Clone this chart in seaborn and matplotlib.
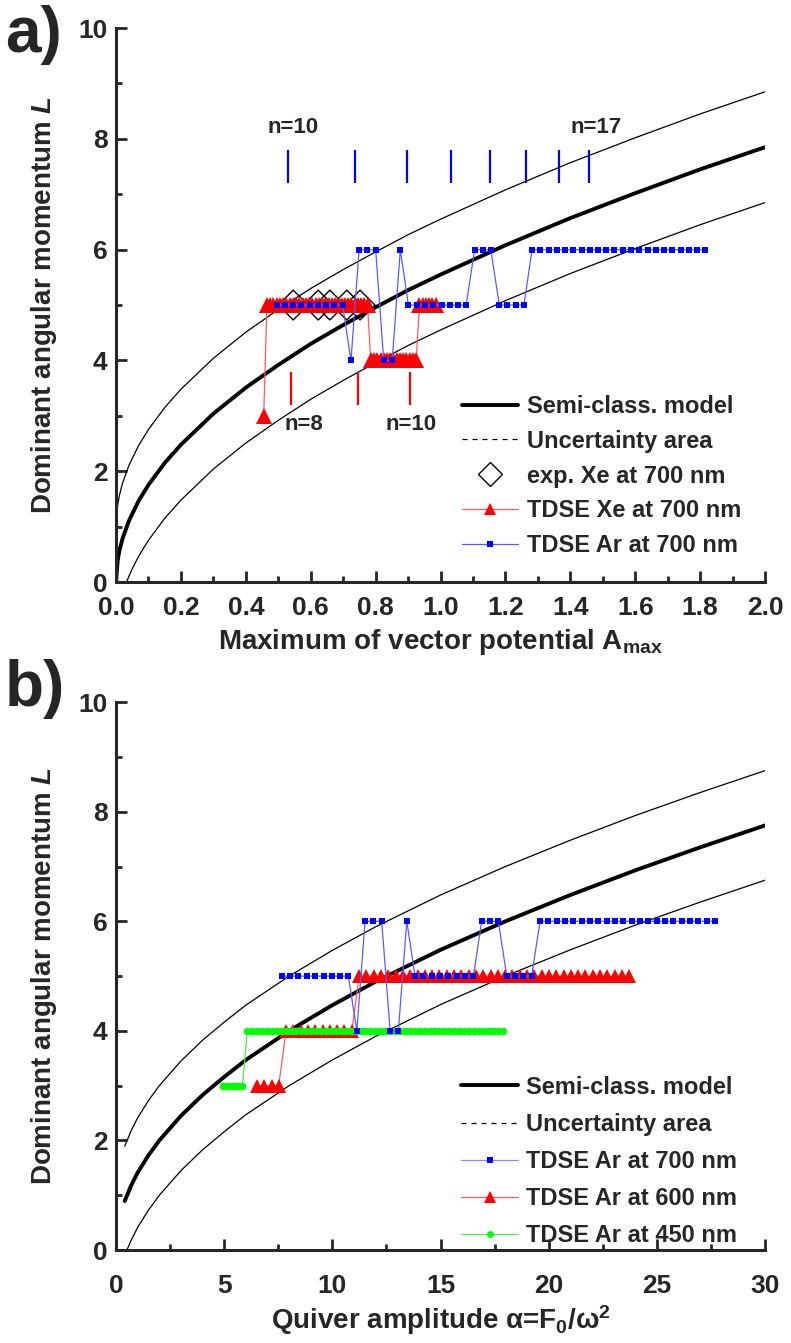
import numpy as np
import pandas as pd
import matplotlib
matplotlib.use("Agg")
import matplotlib.pyplot as plt
import seaborn as sns
from matplotlib.lines import Line2D
from matplotlib.ticker import MultipleLocator, FormatStrFormatter

# ── Panel a data (x = A_max) ────────────────────────────────────────────────────
A_MODEL = [0.0, 0.005, 0.01, 0.02, 0.04, 0.07, 0.1, 0.15, 0.2, 0.3, 0.4, 0.5, 0.6,
           0.7, 0.8, 0.9, 1.0, 1.2, 1.4, 1.6, 1.8, 2.0]
L_MODEL_A = [0.0, 0.39, 0.555, 0.785, 1.11, 1.47, 1.755, 2.15, 2.48, 3.04, 3.51, 3.92,
             4.30, 4.64, 4.96, 5.27, 5.55, 6.08, 6.57, 7.02, 7.45, 7.85]
L_UPPER_A = [1.0, 1.39, 1.555, 1.785, 2.11, 2.47, 2.755, 3.15, 3.48, 4.04, 4.51, 4.92,
             5.30, 5.64, 5.96, 6.27, 6.55, 7.08, 7.57, 8.02, 8.45, 8.85]
A_LOWER = [0.0325, 0.04, 0.05, 0.07, 0.1, 0.15, 0.2, 0.3, 0.4, 0.5, 0.6, 0.7, 0.8,
           0.9, 1.0, 1.2, 1.4, 1.6, 1.8, 2.0]
L_LOWER_A = [0.0, 0.11, 0.24, 0.47, 0.755, 1.15, 1.48, 2.04, 2.51, 2.92, 3.30, 3.64,
             3.96, 4.27, 4.55, 5.08, 5.57, 6.02, 6.45, 6.85]

EXP_XE_A = [0.546, 0.623, 0.659, 0.711, 0.752]
EXP_XE_L = [5, 5, 5, 5, 5]

XE700_A = [0.455,
           0.465, 0.475, 0.485, 0.495, 0.505, 0.515, 0.525, 0.535, 0.545, 0.555, 0.565,
           0.575, 0.585, 0.595, 0.605, 0.615, 0.625, 0.635, 0.645, 0.655, 0.665, 0.675,
           0.685, 0.695, 0.705, 0.715, 0.725, 0.735, 0.745, 0.755, 0.765, 0.775,
           0.785, 0.795, 0.805, 0.815, 0.825, 0.835, 0.845, 0.855, 0.865, 0.875, 0.885,
           0.895, 0.905, 0.915, 0.925,
           0.935, 0.945, 0.955, 0.965, 0.975, 0.985]
XE700_L = [3] + [5] * 32 + [4] * 15 + [5] * 6

AR700_A = [0.495, 0.520, 0.546, 0.571, 0.597, 0.622, 0.647, 0.673, 0.698, 0.724,
           0.749, 0.774, 0.800, 0.825, 0.851, 0.876, 0.901, 0.927, 0.952, 0.978,
           1.003, 1.028, 1.054, 1.079, 1.105, 1.130, 1.155, 1.181, 1.206, 1.232,
           1.257, 1.282, 1.308, 1.333, 1.359, 1.384, 1.409, 1.435, 1.460, 1.486,
           1.511, 1.536, 1.562, 1.587, 1.613, 1.638, 1.663, 1.689, 1.714, 1.740,
           1.765, 1.790, 1.816]
AR700_L = ([5] * 9 + [4] + [6] * 3 + [4] * 2 + [6] + [5] * 8 + [6] * 3 + [5] * 4
           + [6] * 22)

N_BLUE_A = [0.530, 0.737, 0.897, 1.032, 1.153, 1.263, 1.365, 1.457]   # n=10..17
N_RED_A = [0.540, 0.746, 0.906]                                       # n=8..10

# ── Panel b data (x = quiver amplitude) ────────────────────────────────────────
Q_MODEL = [0.4, 0.7, 1, 1.5, 2, 3, 4, 5, 6, 8, 10, 12, 15, 18, 21, 24, 27, 30]
L_MODEL_B = [0.895, 1.18, 1.415, 1.73, 2.0, 2.45, 2.83, 3.16, 3.47, 4.0, 4.47, 4.90,
             5.48, 6.0, 6.48, 6.93, 7.35, 7.75]
L_UPPER_B = [1.895, 2.18, 2.415, 2.73, 3.0, 3.45, 3.83, 4.16, 4.47, 5.0, 5.47, 5.90,
             6.48, 7.0, 7.48, 7.93, 8.35, 8.75]
Q_LOWER = [0.5, 0.7, 1, 1.5, 2, 3, 4, 5, 6, 8, 10, 12, 15, 18, 21, 24, 27, 30]
L_LOWER_B = [0.0, 0.18, 0.415, 0.73, 1.0, 1.45, 1.83, 2.16, 2.47, 3.0, 3.47, 3.90,
             4.48, 5.0, 5.48, 5.93, 6.35, 6.75]

AR700_Q = [7.66, 8.05, 8.43, 8.82, 9.20, 9.59, 9.97, 10.36, 10.74, 11.13, 11.51, 11.90,
           12.28, 12.67, 13.05, 13.44, 13.82, 14.21, 14.59, 14.98, 15.36, 15.75, 16.13,
           16.52, 16.90, 17.29, 17.67, 18.06, 18.44, 18.83, 19.21, 19.60, 19.98, 20.37,
           20.75, 21.14, 21.52, 21.91, 22.29, 22.68, 23.06, 23.45, 23.83, 24.22, 24.60,
           24.99, 25.37, 25.76, 26.14, 26.53, 26.91, 27.30, 27.68]

AR600_Q = [6.51, 6.85, 7.19, 7.52, 7.86, 8.20, 8.54, 8.87, 9.21, 9.55, 9.89, 10.22,
           10.56, 10.90, 11.24, 11.57, 11.91, 12.25, 12.59, 12.92, 13.26, 13.60, 13.94,
           14.27, 14.61, 14.95, 15.29, 15.62, 15.96, 16.30, 16.64, 16.97, 17.31, 17.65,
           17.99, 18.32, 18.66, 19.00, 19.34, 19.67, 20.01, 20.35, 20.69, 21.02, 21.36,
           21.70, 22.04, 22.37, 22.71, 23.05, 23.39, 23.72]
AR600_L = [3] * 4 + [4] * 10 + [5] * 38

AR450_Q = [4.93, 5.16, 5.39, 5.61, 5.84, 6.07, 6.30, 6.52, 6.75, 6.98, 7.21, 7.43,
           7.66, 7.89, 8.12, 8.34, 8.57, 8.80, 9.03, 9.25, 9.48, 9.71, 9.94, 10.16,
           10.39, 10.62, 10.85, 11.07, 11.30, 11.53, 11.76, 11.98, 12.21, 12.44, 12.67,
           12.89, 13.12, 13.35, 13.58, 13.80, 14.03, 14.26, 14.49, 14.71, 14.94, 15.17,
           15.40, 15.62, 15.85, 16.08, 16.31, 16.53, 16.76, 16.99, 17.22, 17.44, 17.67,
           17.90]
AR450_L = [3] * 5 + [4] * 53

# ── Style ───────────────────────────────────────────────────────────────────────
sns.set_theme(style="ticks")
plt.rcParams["font.family"] = ["Liberation Sans", "DejaVu Sans"]
plt.rcParams["font.weight"] = "bold"
plt.rcParams["axes.labelweight"] = "bold"
plt.rcParams["mathtext.fontset"] = "custom"
plt.rcParams["mathtext.rm"] = "Liberation Sans:bold"
plt.rcParams["mathtext.bf"] = "Liberation Sans:bold"
plt.rcParams["mathtext.sf"] = "Liberation Sans:bold"
plt.rcParams["mathtext.it"] = "Liberation Sans:italic:bold"

BLUE, RED, GREEN = "#0000ff", "#ff0000", "#00ff00"
BLUE_LN, RED_LN, GREEN_LN = "#5a5aff", "#ff5a5a", "#50e850"
TICK_FS = 19
LABEL_FS = 20


def draw_series(ax, x, y, line_c, mark_c, marker, ms, lw=0.9, zorder=3):
    sns.lineplot(x=x, y=y, ax=ax, sort=False, estimator=None, color=line_c, lw=lw,
                 marker=marker, markersize=ms, markerfacecolor=mark_c,
                 markeredgecolor=mark_c, markeredgewidth=0, zorder=zorder)


def style_axes(ax, xmax, xmajor, xminor, xpad):
    ax.set_ylim(0, 10)
    ax.set_xlim(0, xmax)
    ax.xaxis.set_major_locator(MultipleLocator(xmajor))
    ax.xaxis.set_minor_locator(MultipleLocator(xminor))
    ax.yaxis.set_major_locator(MultipleLocator(2))
    ax.yaxis.set_minor_locator(MultipleLocator(1))
    ax.tick_params(which="both", direction="in", width=2, labelsize=TICK_FS)
    ax.tick_params(axis="y", pad=6)
    ax.tick_params(axis="x", pad=xpad)
    ax.tick_params(which="major", length=8)
    ax.tick_params(which="minor", length=4.5)
    for s in ["left", "bottom"]:
        ax.spines[s].set_linewidth(2.2)
    sns.despine(ax=ax)
    ax.set_ylabel(r"Dominant angular momentum $L$", fontsize=LABEL_FS, labelpad=14)


def model_curves(ax, xm, lm, lu, xl, ll):
    sns.lineplot(x=xm, y=lm, ax=ax, sort=False, estimator=None, color="black", lw=2.8)
    sns.lineplot(x=xm, y=lu, ax=ax, sort=False, estimator=None, color="black", lw=0.9)
    sns.lineplot(x=xl, y=ll, ax=ax, sort=False, estimator=None, color="black", lw=0.9)


fig = plt.figure(figsize=(7.91, 13.43), dpi=100)
ax1 = fig.add_axes([0.1467, 0.5666, 0.8205, 0.4125])
ax2 = fig.add_axes([0.1467, 0.0692, 0.8205, 0.408])

# ── Panel a ─────────────────────────────────────────────────────────────────────
model_curves(ax1, A_MODEL, L_MODEL_A, L_UPPER_A, A_LOWER, L_LOWER_A)
ax1.vlines(N_BLUE_A, 7.2, 7.8, color=BLUE, lw=1.6)
ax1.vlines(N_RED_A, 3.2, 3.8, color=RED, lw=1.6)
sns.scatterplot(x=EXP_XE_A, y=EXP_XE_L, ax=ax1, marker="D", s=230,
                facecolor="none", edgecolor="black", linewidth=1.0, zorder=2)
draw_series(ax1, XE700_A, XE700_L, RED_LN, RED, "^", 12, zorder=3)
draw_series(ax1, AR700_A, AR700_L, BLUE_LN, BLUE, "s", 4.7, zorder=4)

for xt, yt, txt in [(0.545, 8.2, "n=10"), (1.48, 8.2, "n=17"),
                    (0.58, 2.85, "n=8"), (0.91, 2.85, "n=10")]:
    ax1.text(xt, yt, txt, fontsize=16, fontweight="bold", ha="center", va="center")

style_axes(ax1, 2.0, 0.2, 0.1, xpad=10)
ax1.xaxis.set_major_formatter(FormatStrFormatter("%.1f"))
ax1.set_xlabel(r"Maximum of vector potential A$_{\rm max}$", fontsize=LABEL_FS,
               labelpad=5)

handles_a = [
    Line2D([], [], color="black", lw=2.8),
    Line2D([], [], color="black", lw=0.9, ls=(0, (4, 4))),
    Line2D([], [], color="black", lw=0, marker="D", ms=12.5, mfc="none", mec="black",
           mew=1.0),
    Line2D([], [], color=RED_LN, lw=0.9, marker="^", ms=8.5, mfc=RED, mec=RED, mew=0),
    Line2D([], [], color=BLUE_LN, lw=0.9, marker="s", ms=5, mfc=BLUE, mec=BLUE, mew=0),
]
labels_a = ["Semi-class. model", "Uncertainty area", "exp. Xe at 700 nm",
            "TDSE Xe at 700 nm", "TDSE Ar at 700 nm"]
ax1.legend(handles_a, labels_a, loc="lower right", bbox_to_anchor=(0.963, 0.045),
           frameon=False, fontsize=17, handlelength=2.4, handletextpad=0.35,
           labelspacing=0.5, borderaxespad=0, borderpad=0)

# ── Panel b ─────────────────────────────────────────────────────────────────────
model_curves(ax2, Q_MODEL, L_MODEL_B, L_UPPER_B, Q_LOWER, L_LOWER_B)
draw_series(ax2, AR450_Q, AR450_L, GREEN_LN, GREEN, "o", 5.5, zorder=3)
draw_series(ax2, AR600_Q, AR600_L, RED_LN, RED, "^", 10, zorder=2)
draw_series(ax2, AR700_Q, AR700_L, BLUE_LN, BLUE, "s", 4.7, zorder=4)

style_axes(ax2, 30, 5, 2.5, xpad=17)
ax2.set_xlabel(r"Quiver amplitude α=F$_0$/ω$^2$", fontsize=LABEL_FS, labelpad=4)

handles_b = [
    Line2D([], [], color="black", lw=2.8),
    Line2D([], [], color="black", lw=0.9, ls=(0, (4, 4))),
    Line2D([], [], color="#8a8aff", lw=0.9, marker="s", ms=5, mfc=BLUE, mec=BLUE, mew=0),
    Line2D([], [], color=RED_LN, lw=0.9, marker="^", ms=9, mfc=RED, mec=RED, mew=0),
    Line2D([], [], color=GREEN_LN, lw=0.9, marker="o", ms=5, mfc=GREEN, mec=GREEN, mew=0),
]
labels_b = ["Semi-class. model", "Uncertainty area", "TDSE Ar at 700 nm",
            "TDSE Ar at 600 nm", "TDSE Ar at 450 nm"]
ax2.legend(handles_b, labels_b, loc="lower right", bbox_to_anchor=(0.957, 0.005),
           frameon=False, fontsize=17, handlelength=2.4, handletextpad=0.35,
           labelspacing=0.6, borderaxespad=0, borderpad=0)

fig.text(0.006, 0.961, "a)", fontsize=46, fontweight="bold")
fig.text(0.006, 0.474, "b)", fontsize=46, fontweight="bold")

fig.savefig("out.png", dpi=100)
